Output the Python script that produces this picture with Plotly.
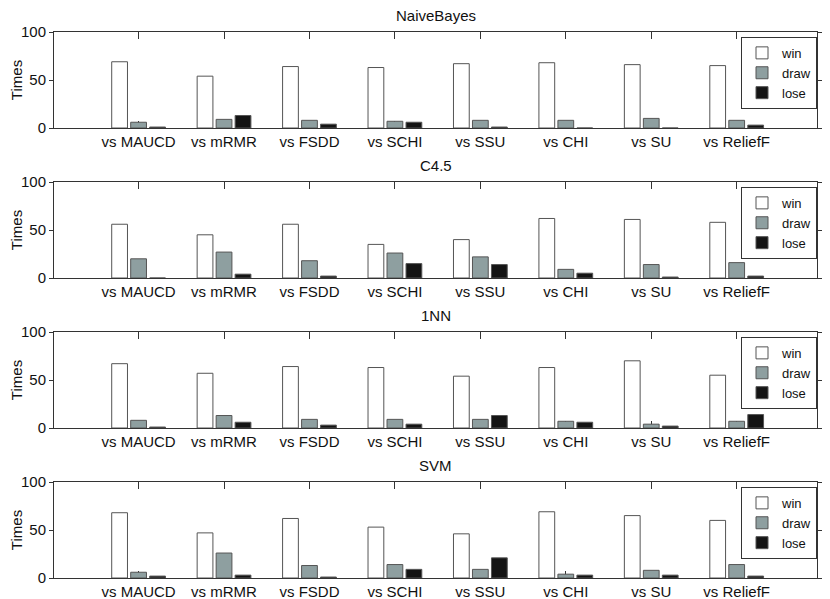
import plotly.graph_objects as go
from plotly.subplots import make_subplots

methods = ["vs MAUCD", "vs mRMR", "vs FSDD", "vs SCHI", "vs SSU", "vs CHI", "vs SU", "vs ReliefF"]
classifiers = ["NaiveBayes", "C4.5", "1NN", "SVM"]
outcomes = ["win", "draw", "lose"]

nb_win  = [69, 54, 64, 63, 67, 68, 66, 65]
nb_draw = [6, 9, 8, 7, 8, 8, 10, 8]
nb_lose = [1, 13, 4, 6, 1, 0, 0, 3]

c45_win  = [56, 45, 56, 35, 40, 62, 61, 58]
c45_draw = [20, 27, 18, 26, 22, 9, 14, 16]
c45_lose = [0, 4, 2, 15, 14, 5, 1, 2]

nn_win  = [67, 57, 64, 63, 54, 63, 70, 55]
nn_draw = [8, 13, 9, 9, 9, 7, 4, 7]
nn_lose = [1, 6, 3, 4, 13, 6, 2, 14]

svm_win  = [68, 47, 62, 53, 46, 69, 65, 60]
svm_draw = [6, 26, 13, 14, 9, 4, 8, 14]
svm_lose = [2, 3, 1, 9, 21, 3, 3, 2]

results = [
    (nb_win, nb_draw, nb_lose),
    (c45_win, c45_draw, c45_lose),
    (nn_win, nn_draw, nn_lose),
    (svm_win, svm_draw, svm_lose),
]

FILL = {"win": "#ffffff", "draw": "#8e9fa0", "lose": "#141414"}
FONT = "Liberation Sans, Arial, sans-serif"

# page body keeps an 8px margin, so the figure is a bit smaller than the window
fig = make_subplots(rows=4, cols=1, vertical_spacing=54 / 546,
                    subplot_titles=classifiers)

for i, series in enumerate(results):
    row = i + 1
    leg = "legend" if i == 0 else f"legend{row}"
    for name, vals in zip(outcomes, series):
        fig.add_trace(go.Bar(
            x=methods, y=vals, name=name,
            marker=dict(color=FILL[name], line=dict(color="#555555", width=1)),
            legend=leg,
        ), row=row, col=1)

fig.update_layout(
    width=822, height=591,
    margin=dict(l=46, r=13, t=24, b=21),
    paper_bgcolor="white", plot_bgcolor="white",
    font=dict(family=FONT, size=15, color="#111111"),
    barmode="group", bargap=0.333, bargroupgap=0.17,
)

fig.update_xaxes(
    range=[-0.99, 7.94], showline=True, linecolor="#333333", linewidth=1,
    mirror="ticks", ticks="inside", ticklen=7, tickcolor="#333333",
    showgrid=False, layer="below traces", tickfont=dict(size=15),
    automargin=False,
)
fig.update_yaxes(
    range=[0, 100], tickvals=[0, 50, 100], showline=True, linecolor="#333333",
    linewidth=1, mirror="ticks", ticks="outside", ticklen=4, tickcolor="#333333",
    showgrid=False, zeroline=False, tickfont=dict(size=15), automargin=False,
    title=dict(text="Times", standoff=6, font=dict(size=15)),
)

for ann in fig.layout.annotations:
    ann.font = dict(family=FONT, size=15, color="#111111")
    ann.yshift = 6

for i in range(4):
    row = i + 1
    yax = fig.layout["yaxis" if row == 1 else f"yaxis{row}"]
    top = yax.domain[1]
    fig.layout["legend" if row == 1 else f"legend{row}"] = dict(
        x=1.0, xanchor="right", y=top - 0.009, yanchor="top",
        bgcolor="white", bordercolor="#333333", borderwidth=1,
        font=dict(size=13), itemwidth=30, tracegroupgap=0,
    )

fig.write_html("out.html")
